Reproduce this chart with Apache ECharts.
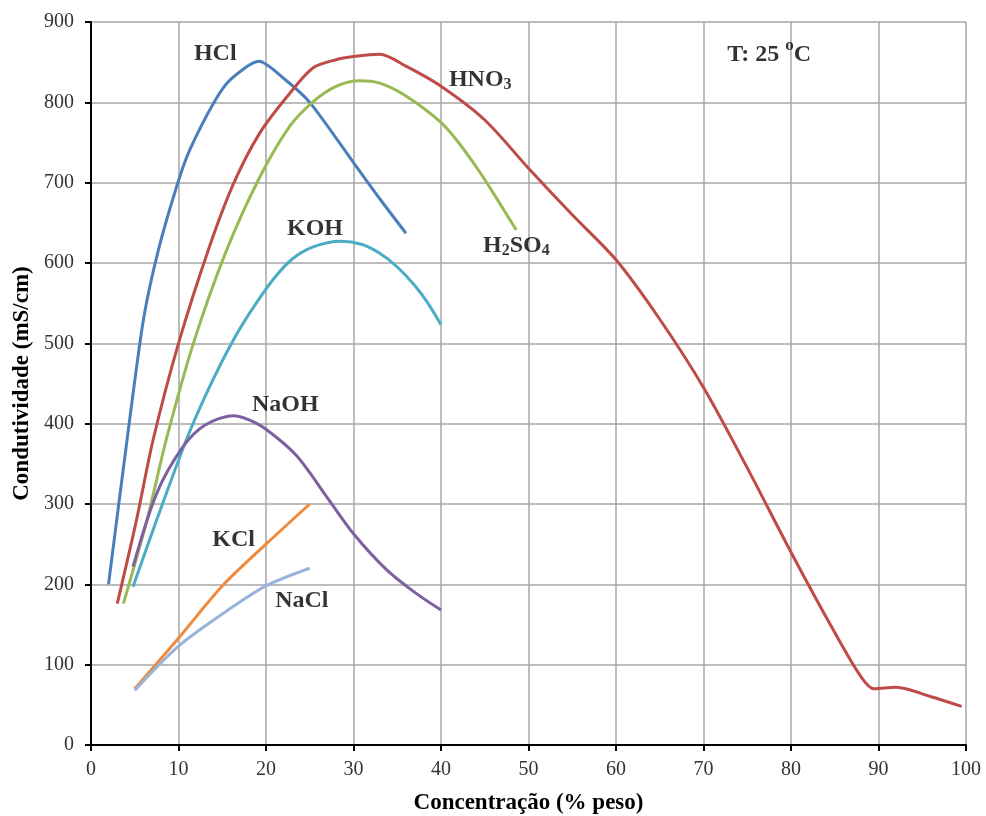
<!DOCTYPE html>
<html>
<head>
<meta charset="utf-8">
<script src="https://cdn.jsdelivr.net/npm/echarts@6/dist/echarts.min.js"></script>
<style>
  html, body { margin: 0; padding: 0; background: #fff; }
  #main { width: 986px; height: 816px; }
</style>
</head>
<body>
<div id="main"></div>
<script>
// dados (concentracao %, condutividade mS/cm)
var hcl = [[2,200],[4.3,395],[6,530],[7.7,616],[9.9,699],[11.3,741],[14,799],[15.9,828],[19.2,851],[22,830],[25,800],[30,725],[33,680],[36,637]];
var hno3 = [[3,176],[5.2,280],[7.1,380],[10,500],[13.4,616],[16.3,699],[19.3,762],[22.7,811],[25.4,843],[28,853],[30,857],[33,860],[36,845],[40,820],[45,778],[50,718],[55,660],[60,604],[65,530],[70,445],[75,345],[80,240],[85,140],[88,85],[89.5,70],[92,72],[96,60],[99.5,48]];
var h2so4 = [[3.7,176],[6.4,280],[8.6,380],[11.7,500],[15.5,616],[19.3,707],[22.7,770],[25.4,801],[28,820],[30.7,827],[33,824],[36,808],[39.9,776],[42,750],[44.5,712],[46.5,678],[48.6,641]];
var koh = [[4.8,197],[7.5,280],[10.9,380],[13,433],[15,478],[17,518],[19,552],[21,582],[23,605],[25.4,620],[28.5,627],[31,623],[33,612],[35,595],[37,572],[38.5,550],[40,523]];
var naoh = [[4.8,222],[7.5,313],[10.5,371],[13,398],[16.3,410],[18,405],[20,393],[23.5,360],[27,308],[30,263],[33.8,218],[37,190],[40,168]];
var kcl = [[5,70],[10,133],[15,198],[20,250],[25,300]];
var nacl = [[5,68],[10,123],[15,163],[20,198],[25,220]];

var seriesNames = ['HCl', 'HNO3', 'H2SO4', 'KOH', 'NaOH', 'KCl', 'NaCl'];
var seriesData = [hcl, hno3, h2so4, koh, naoh, kcl, nacl];
var colors = ['#4A7EBB', '#BE4B48', '#98B954', '#4BACC6', '#7D60A0', '#F08A3A', '#98B4DC'];

// rotulos: posicao [x, y], texto, alinhamento
var labelPos = [[14.2,861],[40.9,828],[44.8,622],[25.6,642],[22.2,423],[16.3,255],[24.1,180],[72.7,859]];
var labelText = ['HCl', 'HNO{sub|3}', 'H{sub|2}SO{sub|4}', 'KOH', 'NaOH', 'KCl', 'NaCl', 'T: 25 {sup|o}C'];
var labelAlign = ['center', 'left', 'left', 'center', 'center', 'center', 'center', 'left'];

var chart = echarts.init(document.getElementById('main'));

var series = seriesData.map(function (d, i) {
  return {
    name: seriesNames[i],
    type: 'line',
    data: d,
    smooth: i == 0 ? 0.25 : 0.3,
    showSymbol: false,
    symbol: 'none',
    lineStyle: { width: 3, color: colors[i] },
    itemStyle: { color: colors[i] },
    z: 3
  };
});

series.push({
  type: 'scatter',
  symbolSize: 0,
  silent: true,
  z: 5,
  data: labelPos.map(function (p, i) {
    return {
      value: p,
      label: {
        show: true,
        position: 'inside',
        align: labelAlign[i],
        verticalAlign: 'middle',
        formatter: labelText[i]
      }
    };
  }),
  label: {
    fontFamily: 'Liberation Serif',
    fontWeight: 'bold',
    fontSize: 24,
    color: '#000',
    textBorderWidth: 0,
    rich: {
      sub: { fontFamily: 'Liberation Serif', fontWeight: 'bold', fontSize: 16, color: '#000', verticalAlign: 'bottom', lineHeight: 27 },
      sup: { fontFamily: 'Liberation Serif', fontWeight: 'bold', fontSize: 17, color: '#000', verticalAlign: 'top', lineHeight: 36 }
    }
  }
});

var options = {
  backgroundColor: '#fff',
  animation: false,
  grid: { left: 91, right: 20, top: 22, bottom: 71, outerBoundsMode: 'none' },
  xAxis: {
    type: 'value',
    min: 0,
    max: 100,
    interval: 10,
    name: 'Concentração (% peso)',
    nameLocation: 'middle',
    nameGap: 47,
    nameTextStyle: { fontFamily: 'Liberation Serif', fontWeight: 'bold', fontSize: 23, color: '#000' },
    axisLine: { lineStyle: { color: '#000', width: 2 } },
    axisTick: { show: true, length: 6, lineStyle: { color: '#000', width: 2 } },
    axisLabel: { fontFamily: 'Liberation Serif', fontSize: 20, color: '#333', margin: 15 },
    splitLine: { show: true, lineStyle: { color: '#A6A6A6', width: 1.5 } }
  },
  yAxis: {
    type: 'value',
    min: 0,
    max: 900,
    interval: 100,
    name: 'Condutividade (mS/cm)',
    nameLocation: 'middle',
    nameGap: 57,
    nameTextStyle: { fontFamily: 'Liberation Serif', fontWeight: 'bold', fontSize: 23, color: '#000' },
    axisLine: { show: true, lineStyle: { color: '#000', width: 2 } },
    axisTick: { show: true, length: 6, lineStyle: { color: '#000', width: 2 } },
    axisLabel: { fontFamily: 'Liberation Serif', fontSize: 20, color: '#333', margin: 17 },
    splitLine: { show: true, lineStyle: { color: '#A6A6A6', width: 1.5 } }
  },
  series: series
};

chart.setOption(options);
</script>
</body>
</html>
